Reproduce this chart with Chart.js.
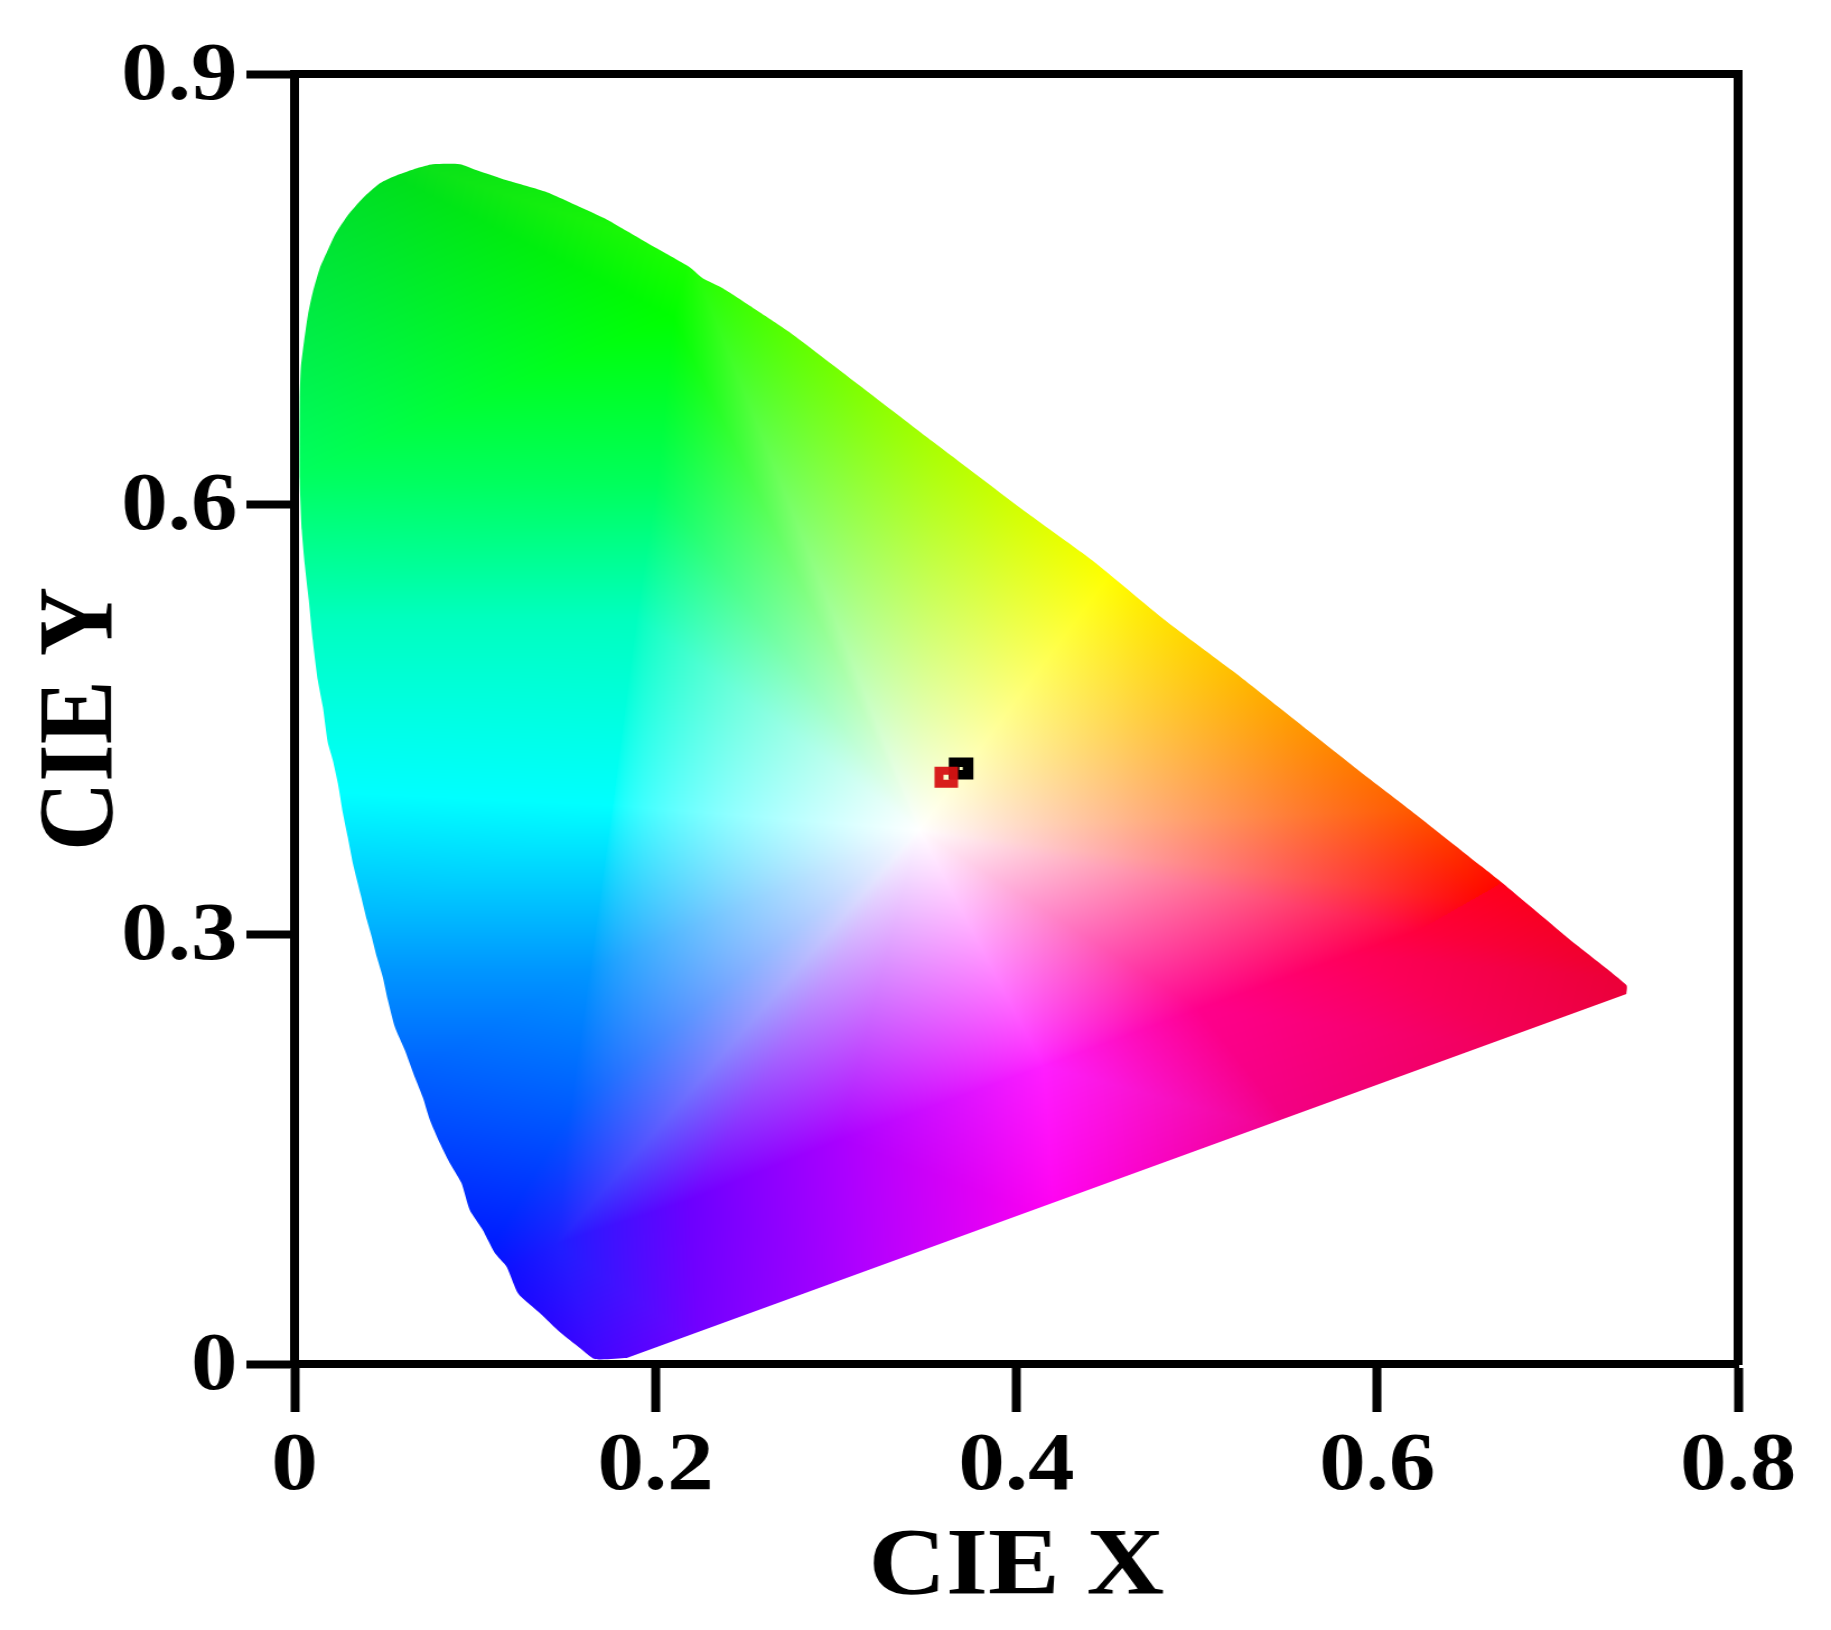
<!DOCTYPE html>
<html><head><meta charset="utf-8">
<script src="https://cdn.jsdelivr.net/npm/chart.js@4/dist/chart.umd.min.js"></script>
<style>html,body{margin:0;padding:0;background:#fff;overflow:hidden}canvas{display:block}</style>
</head><body><canvas id="c" width="1635" height="1630"></canvas>
<script>
const xTicks=[0,0.2,0.4,0.6,0.8];
const yTicks=[0,0.3,0.6,0.9];
const xTitle='CIE X', yTitle='CIE Y';
const gamutX=[.1841,.1664,.1581,.1470,.1359,.1240,.1176,.1110,.1043,.0971,.0925,.0860,.0805,.0750,.0710,.0666,.0611,.0556,.0517,.0489,.0456,.0428,.0401,.0367,.0323,.0295,.0268,.0240,.0212,.0184,.0157,.0129,.0101,.0079,.0057,.0040,.0029,.0029,.0035,.0052,.0074,.0101,.0140,.0179,.0223,.0295,.0378,.0473,.0567,.0678,.0766,.0916,.1010,.1176,.1398,.1597,.1730,.1841,.2007,.2190,.2262,.2373,.2561,.2744,.3542,.4062,.4420,.4830,.5198,.5453,.5874,.6184,.6583,.6694,.7065,.7381,.7381];
const gamutY=[.0042,.0035,.0112,.0223,.0356,.0490,.0677,.0774,.0935,.1074,.1262,.1402,.1541,.1702,.1862,.2002,.2190,.2351,.2539,.2699,.2839,.2978,.3097,.3271,.3494,.3676,.3843,.4052,.4213,.4338,.4583,.4771,.5050,.5329,.5573,.5817,.6166,.6724,.6954,.7128,.7317,.7477,.7645,.7756,.7875,.8014,.8133,.8237,.8293,.8342,.8370,.8370,.8328,.8258,.8175,.8063,.7985,.7905,.7784,.7652,.7575,.7505,.7352,.7198,.6431,.5936,.5608,.5184,.4836,.4583,.4164,.3864,.3467,.3355,.2964,.2644,.2581];
const sampleX=[.3694], sampleY=[.4155];
const sample2X=[.3612], sample2Y=[.4094];
const whiteXY=[.3464,.3725];
const ringX=[.2190,.2744,.3542,.4517,.5198,.6184,.6639,.6234,.5846,.5015,.4151,.3021,.2190,.1453,.1453,.1525,.1636,.1763,.1896,.2007,.2096];
const ringY=[.7735,.7198,.6431,.5503,.4834,.3864,.3215,.3027,.2853,.2476,.2079,.1562,.1144,.0837,.0837,.1758,.2748,.3899,.5210,.6145,.7303];
const ringR=[30,90,170,255,255,255,255,255,255,255,255,170,108,30,30,0,0,0,0,0,0];
const ringG=[255,255,255,255,190,90,0,0,0,0,30,0,0,30,30,90,150,255,255,255,255];
const ringB=[0,0,0,0,0,0,0,60,90,140,255,255,255,255,255,255,255,255,190,90,0];
const ringPower=[1.1,1.1,1.1,1,1.1,1.1,1,1,1,1,.85,1,1,1,1,.95,.8,.6,.8,1,1.1];
const outerX=[.2245,.2966,.3797,.4794,.5459,.6456,.7010,.7785,.6899,.5569,.4212,.3132,.2245,.1747,.0916,-.0081,-.0081,-.0081,-.0081,-.0081,-.0081];
const outerY=[.8816,.7561,.6794,.5887,.5189,.4213,.3585,.2644,.2190,.1597,.1004,.0481,.0133,-.0112,.0446,.1493,.2748,.4004,.5210,.6145,.8677];
const outerR=[0,90,170,255,255,255,255,230,240,240,255,175,115,75,0,0,0,0,0,0,0];
const outerG=[225,255,255,250,190,90,0,0,0,0,0,0,0,0,0,55,150,255,255,255,210];
const outerB=[0,0,0,0,0,0,0,45,85,130,240,255,255,255,255,255,255,255,190,100,40];

const toXY=(a,b)=>a.map((v,i)=>({x:v,y:b[i]}));
const W=1635,H=1630;
let pattern=null;
function buildPattern(chart){
  if(pattern) return pattern;
  const sx=chart.scales.x, sy=chart.scales.y;
  const off=document.createElement('canvas'); off.width=W; off.height=H;
  const oc=off.getContext('2d'); const img=oc.createImageData(W,H); const d=img.data;
  const node=(x,y,r,g,b,p)=>({px:sx.getPixelForValue(x),py:sy.getPixelForValue(y),r,g,b,p});
  const cen=node(whiteXY[0],whiteXY[1],255,255,255);
  const ring=ringX.map((v,i)=>node(v,ringY[i],ringR[i],ringG[i],ringB[i],ringPower[i]));
  const outer=outerX.map((v,i)=>node(v,outerY[i],outerR[i],outerG[i],outerB[i]));
  function tri(a,b,c,fan){
    const den=(b.py-c.py)*(a.px-c.px)+(c.px-b.px)*(a.py-c.py);
    if(Math.abs(den)<1e-6) return;
    const x0=Math.max(0,Math.floor(Math.min(a.px,b.px,c.px))),x1=Math.min(W-1,Math.ceil(Math.max(a.px,b.px,c.px)));
    const y0=Math.max(0,Math.floor(Math.min(a.py,b.py,c.py))),y1=Math.min(H-1,Math.ceil(Math.max(a.py,b.py,c.py)));
    for(let y=y0;y<=y1;y++)for(let x=x0;x<=x1;x++){
      let l1=((b.py-c.py)*(x+.5-c.px)+(c.px-b.px)*(y+.5-c.py))/den;
      let l2=((c.py-a.py)*(x+.5-c.px)+(a.px-c.px)*(y+.5-c.py))/den;
      let l3=1-l1-l2;
      if(l1<-.001||l2<-.001||l3<-.001) continue;
      if(fan&&l1>0&&l1<1){
        const p=(Math.max(l2,0)*b.p+Math.max(l3,0)*c.p)/(1-l1);
        const w=Math.pow(l1,p),f=(1-w)/(1-l1);l1=w;l2*=f;l3*=f;
      }
      const k=(y*W+x)*4;
      d[k]=l1*a.r+l2*b.r+l3*c.r; d[k+1]=l1*a.g+l2*b.g+l3*c.g; d[k+2]=l1*a.b+l2*b.b+l3*c.b; d[k+3]=255;
    }
  }
  const n=ring.length;
  for(let i=0;i<n;i++){
    const j=(i+1)%n;
    tri(cen,ring[i],ring[j],true);
    tri(ring[i],ring[j],outer[i]);
    tri(ring[j],outer[i],outer[j]);
  }
  oc.putImageData(img,0,0);
  pattern=chart.ctx.createPattern(off,'no-repeat');
  return pattern;
}
const font=(size)=>({family:"'Liberation Serif','Times New Roman',serif",weight:'bold',size});
const edge={display:true,color:'#000',width:8,z:1};
const chart=new Chart(document.getElementById('c'),{
  type:'scatter',
  data:{datasets:[
    {label:'sample 2',data:toXY(sample2X,sample2Y),order:1,pointStyle:'rect',pointRadius:9.2,pointHoverRadius:9.2,pointBorderWidth:8,pointBorderColor:'rgba(214,18,18,0.95)',pointBackgroundColor:'rgba(0,0,0,0)',showLine:false},
    {label:'sample 1',data:toXY(sampleX,sampleY),order:2,pointStyle:'rect',pointRadius:8.8,pointHoverRadius:8.8,pointBorderWidth:9.5,pointBorderColor:'#000',pointBackgroundColor:'rgba(0,0,0,0)',showLine:false},
    {label:'gamut',data:toXY(gamutX,gamutY),order:3,showLine:true,fill:'shape',borderWidth:0,pointRadius:0,pointHoverRadius:0,tension:0.2,
     backgroundColor:(c)=>c.chart.chartArea?buildPattern(c.chart):'rgba(0,0,0,0)'}
  ]},
  options:{
    responsive:false,animation:false,devicePixelRatio:1,
    layout:{padding:{left:0,top:74,right:83,bottom:0}},
    events:[],
    plugins:{legend:{display:false},tooltip:{enabled:false}},
    scales:{
      x:{type:'linear',position:'bottom',min:0,max:0.8,z:1,
        afterBuildTicks:s=>{s.ticks=xTicks.map(v=>({value:v}));},
        afterFit:s=>{s.height=266;},
        grid:{drawOnChartArea:false,drawTicks:true,tickLength:48,tickWidth:8,tickColor:'#000'},
        border:edge,
        ticks:{color:'#000',font:font(83),padding:6,autoSkip:false,maxRotation:0,callback:v=>String(v)},
        title:{display:true,text:xTitle,color:'#000',font:font(96),padding:{top:0,bottom:3}}},
      y:{type:'linear',position:'left',min:0,max:0.9,z:1,
        afterBuildTicks:s=>{s.ticks=yTicks.map(v=>({value:v}));},
        afterFit:s=>{s.width=263;},
        grid:{drawOnChartArea:false,drawTicks:true,tickLength:43,tickWidth:8,tickColor:'#000'},
        border:edge,
        ticks:{color:'#000',font:font(83),padding:8,labelOffset:4,autoSkip:false,callback:v=>String(v)},
        title:{display:true,text:yTitle,color:'#000',font:font(96),padding:{top:18,bottom:0}}},
      x2:{type:'linear',position:'top',min:0,max:0.8,z:1,afterFit:s=>{s.height=0;},
        afterBuildTicks:s=>{s.ticks=[{value:0.8}];},
        grid:{drawOnChartArea:false,drawTicks:true,tickLength:4,tickWidth:8,tickColor:'#000'},border:edge,ticks:{display:false}},
      y2:{type:'linear',position:'right',min:0,max:0.9,z:1,afterFit:s=>{s.width=0;},
        grid:{drawOnChartArea:false,drawTicks:false},border:edge,ticks:{display:false}}
    }
  }
});
const cv=document.getElementById('c');
cv.style.width='1831px';cv.style.height='1630px';
</script></body></html>
